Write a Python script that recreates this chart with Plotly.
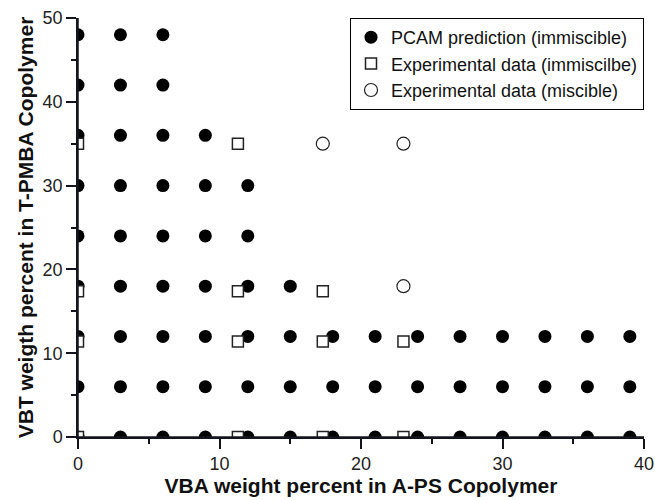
import plotly.graph_objects as go

# PCAM prediction grid (immiscible): x values per VBT row
pcam_rows = {
    48: [0, 3, 6],
    42: [0, 3, 6],
    36: [0, 3, 6, 9],
    30: [0, 3, 6, 9, 12],
    24: [0, 3, 6, 9, 12],
    18: [0, 3, 6, 9, 12, 15],
    12: [0, 3, 6, 9, 12, 15, 18, 21, 24, 27, 30, 33, 36, 39],
    6: [0, 3, 6, 9, 12, 15, 18, 21, 24, 27, 30, 33, 36, 39],
    0: [0, 3, 6, 9, 12, 15, 18, 21, 24, 27, 30, 33, 36, 39],
}
pcam_x = [x for y, xs in pcam_rows.items() for x in xs]
pcam_y = [y for y, xs in pcam_rows.items() for x in xs]

# Experimental data (immiscible)
exp_imm_x = [0, 0, 0, 0, 11.3, 11.3, 11.3, 11.3, 17.3, 17.3, 17.3, 23, 23]
exp_imm_y = [35, 17.4, 11.4, 0, 35, 17.4, 11.4, 0, 17.4, 11.4, 0, 11.4, 0]

# Experimental data (miscible)
exp_mis_x = [17.3, 23, 23]
exp_mis_y = [35, 35, 18]

FONT = "Liberation Sans, Arial, sans-serif"
AXIS_COLOR = "#14141e"

fig = go.Figure()
fig.add_trace(go.Scatter(
    x=pcam_x, y=pcam_y, mode="markers", name="PCAM prediction (immiscible)",
    marker=dict(symbol="circle", size=13, color="black", line=dict(width=0)),
))
fig.add_trace(go.Scatter(
    x=exp_imm_x, y=exp_imm_y, mode="markers", name="Experimental data (immiscilbe)",
    marker=dict(symbol="square", size=11, color="white",
                line=dict(color="#222222", width=1.5)),
))
fig.add_trace(go.Scatter(
    x=exp_mis_x, y=exp_mis_y, mode="markers", name="Experimental data (miscible)",
    marker=dict(symbol="circle", size=13, color="white",
                line=dict(color="#222222", width=1.2)),
))

axis_common = dict(
    showline=True, linecolor=AXIS_COLOR, linewidth=1.5, mirror=False,
    showgrid=False, zeroline=False, automargin=False,
    ticks="outside", ticklen=10, tickwidth=1.5, tickcolor=AXIS_COLOR,
    tick0=0, dtick=10,
    tickfont=dict(family=FONT, size=18, color="#222222"),
    minor=dict(ticks="outside", dtick=5, ticklen=5, tickwidth=1.5, tickcolor=AXIS_COLOR),
)

# Left and bottom frame lines along the plot area edges
frame_lines = [
    dict(type="line", xref="paper", yref="paper", x0=0, y0=0, x1=1, y1=0,
         line=dict(color=AXIS_COLOR, width=1.5), layer="above"),
    dict(type="line", xref="paper", yref="paper", x0=0, y0=0, x1=0, y1=1,
         line=dict(color=AXIS_COLOR, width=1.5), layer="above"),
]

fig.update_layout(
    template="none",
    width=655, height=500,
    margin=dict(l=78, r=11, t=18, b=63),
    paper_bgcolor="white", plot_bgcolor="white",
    showlegend=True,
    shapes=frame_lines,
    legend=dict(
        x=1, y=1, xanchor="right", yanchor="top",
        bgcolor="white", bordercolor="black", borderwidth=1,
        font=dict(family=FONT, size=18, color="#111111"),
    ),
    xaxis=dict(range=[0, 40], **axis_common,
               title=dict(text="<b>VBA weight percent in A-PS Copolymer</b>",
                          font=dict(family=FONT, size=21, color="#111111"),
                          standoff=5)),
    yaxis=dict(range=[0, 50], **axis_common,
               title=dict(text="<b>VBT weigth percent in T-PMBA Copolymer</b>",
                          font=dict(family=FONT, size=21, color="#111111"),
                          standoff=3)),
)

fig.write_html("out.html")
